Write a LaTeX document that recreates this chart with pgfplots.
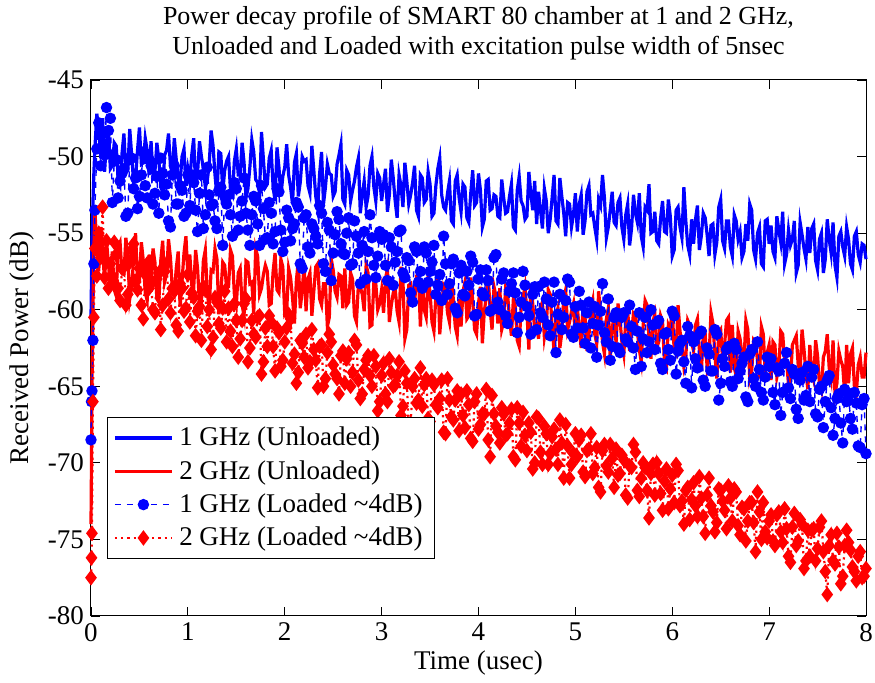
\documentclass[border=0pt]{standalone}
\usepackage{fontspec}
\setmainfont{Liberation Serif}
\usepackage{pgfplots}
\usepackage{pgfplotstable}
\pgfplotsset{compat=1.18}

\pgfplotstableread{
x bu ru bl rl
0     -60.5 -74.0 -68.5 -77.5
0.005 -58.0 -70.0 -66.0 -76.2
0.01  -55.5 -65.0 -65.3 -74.6
0.02  -53.0 -60.0 -62.0 -66.0
0.03  -51.0 -56.0 -57.0 -60.5
0.04  -49.5 -53.5 -53.5 -56.0
0.06  -47.2 -55.8 -49.5 -57.8
0.08  -48.2 -57.5 -47.8 -55.0
0.10  -50.1 -54.6 -50.6 -56.6
0.12  -47.5 -56.0 -48.5 -53.3
0.14  -51.0 -58.2 -49.9 -57.9
0.16  -49.0 -55.5 -46.8 -55.5
0.18  -48.1 -57.0 -48.3 -58.6
0.20  -50.8 -58.5 -47.5 -57.0
0.22 -50.6 -56.2 -53.0 -57.8
0.24 -49.1 -58.7 -50.3 -55.6
0.26 -49.3 -59.1 -50.2 -56.4
0.28 -51.4 -55.9 -52.7 -58.6
0.30 -51.8 -55.6 -51.6 -59.4
0.32 -49.8 -57.6 -51.1 -57.3
0.34 -48.5 -57.7 -50.8 -57.2
0.36 -51.0 -55.3 -53.9 -59.7
0.38 -50.9 -56.6 -53.7 -59.0
0.40 -48.2 -59.3 -50.2 -56.9
0.42 -49.9 -58.5 -50.1 -56.1
0.44 -51.7 -56.7 -52.1 -55.7
0.46 -51.5 -55.0 -51.4 -58.2
0.48 -49.6 -58.1 -53.4 -58.7
0.50 -48.1 -58.0 -52.6 -57.3
0.52 -50.5 -55.6 -51.2 -59.7
0.54 -50.4 -56.8 -49.7 -60.6
0.56 -48.8 -58.9 -51.9 -57.7
0.58 -49.6 -59.4 -52.7 -57.0
0.60 -51.2 -56.4 -50.2 -58.6
0.62 -49.0 -58.5 -50.6 -58.3
0.64 -51.3 -56.0 -53.1 -60.0
0.66 -51.0 -56.9 -52.4 -60.2
0.68 -49.1 -59.3 -51.3 -58.0
0.70 -50.2 -59.5 -53.7 -57.6
0.72 -52.0 -56.8 -50.1 -61.3
0.74 -52.3 -55.5 -51.1 -59.7
0.76 -49.9 -58.2 -52.5 -57.5
0.78 -49.6 -57.7 -51.8 -57.0
0.80 -48.5 -55.4 -54.2 -59.3
0.82 -50.6 -56.6 -54.6 -60.2
0.84 -51.1 -58.7 -51.2 -58.6
0.86 -48.8 -59.0 -50.6 -58.8
0.88 -50.2 -57.3 -53.1 -61.0
0.90 -51.5 -56.2 -53.1 -61.4
0.92 -51.7 -59.8 -51.9 -58.3
0.94 -50.0 -58.1 -52.2 -58.6
0.96 -49.5 -56.3 -53.9 -60.1
0.98 -51.9 -55.2 -53.7 -59.9
1.00 -50.8 -57.8 -51.2 -57.7
1.02 -51.6 -56.4 -53.2 -60.8
1.04 -49.9 -58.4 -51.2 -58.9
1.06 -48.8 -58.6 -51.7 -59.2
1.08 -52.0 -56.1 -53.5 -61.7
1.10 -51.1 -57.3 -54.9 -60.1
1.12 -49.0 -59.7 -52.4 -59.8
1.14 -50.0 -59.5 -51.2 -62.0
1.16 -50.8 -56.8 -54.7 -58.5
1.18 -52.0 -56.1 -53.8 -58.7
1.20 -51.6 -58.9 -50.7 -61.1
1.22 -50.5 -59.9 -52.5 -60.0
1.24 -48.3 -57.4 -53.2 -62.6
1.26 -49.3 -57.5 -53.1 -61.8
1.28 -51.2 -56.0 -54.2 -59.2
1.30 -52.6 -56.7 -54.7 -59.5
1.32 -49.7 -60.3 -52.2 -60.9
1.34 -49.8 -59.0 -52.0 -61.2
1.36 -52.3 -56.9 -55.8 -59.9
1.38 -50.9 -57.1 -52.6 -58.8
1.40 -50.3 -58.6 -53.1 -62.1
1.42 -50.0 -58.5 -52.5 -59.9
1.44 -52.2 -56.1 -53.8 -61.4
1.46 -52.5 -56.5 -55.2 -62.4
1.48 -50.3 -59.0 -51.7 -59.6
1.50 -49.5 -59.7 -52.1 -60.7
1.52 -51.2 -57.6 -54.8 -63.1
1.54 -51.2 -57.3 -53.9 -61.9
1.56 -49.1 -59.7 -52.9 -60.7
1.58 -50.4 -60.4 -51.4 -59.6
1.60 -52.7 -56.8 -53.7 -59.3
1.62 -52.1 -56.9 -54.8 -63.4
1.64 -50.7 -58.3 -55.8 -62.5
1.66 -48.9 -58.2 -53.8 -60.7
1.68 -49.7 -60.3 -52.6 -61.6
1.70 -51.5 -56.0 -52.9 -61.8
1.72 -51.7 -56.5 -54.4 -60.5
1.74 -52.4 -59.0 -55.8 -60.4
1.76 -48.4 -58.6 -51.9 -64.2
1.78 -50.2 -57.7 -53.4 -63.4
1.80 -52.0 -57.1 -55.4 -61.2
1.82 -51.8 -57.5 -55.3 -62.4
1.84 -50.1 -59.7 -53.0 -60.4
1.86 -49.6 -59.6 -53.7 -60.8
1.88 -52.0 -57.5 -55.7 -62.4
1.90 -52.9 -56.3 -54.9 -64.0
1.92 -49.4 -58.7 -52.1 -61.2
1.94 -50.7 -58.9 -52.3 -61.5
1.96 -52.6 -56.7 -54.8 -63.7
1.98 -51.3 -57.2 -56.2 -63.3
2.00 -50.7 -60.3 -55.6 -62.1
2.02 -49.2 -60.1 -53.5 -61.2
2.04 -51.2 -57.3 -54.0 -60.3
2.06 -52.0 -57.9 -55.5 -60.6
2.08 -53.1 -59.2 -54.7 -63.5
2.10 -50.4 -60.9 -54.4 -62.9
2.12 -49.8 -58.1 -53.0 -64.8
2.14 -52.6 -56.8 -53.3 -64.1
2.16 -51.7 -59.9 -57.0 -62.0
2.18 -50.0 -58.8 -57.3 -62.2
2.20 -50.3 -57.0 -54.0 -63.1
2.22 -50.2 -60.1 -53.8 -61.6
2.24 -51.9 -58.0 -55.9 -63.8
2.26 -52.4 -57.6 -56.3 -63.4
2.28 -49.3 -60.4 -54.4 -61.3
2.30 -50.9 -58.8 -54.7 -62.6
2.32 -52.6 -57.2 -55.2 -63.3
2.34 -53.4 -57.0 -55.7 -65.1
2.36 -51.1 -59.3 -53.2 -62.4
2.38 -49.7 -59.7 -53.7 -62.3
2.40 -53.1 -58.3 -57.0 -65.0
2.42 -52.0 -58.3 -57.5 -64.5
2.44 -50.5 -61.1 -54.3 -62.8
2.46 -51.1 -60.5 -54.8 -61.6
2.48 -51.2 -56.7 -58.1 -62.1
2.50 -52.6 -57.4 -56.3 -63.6
2.52 -52.3 -58.8 -55.1 -64.2
2.54 -50.5 -59.2 -53.6 -64.5
2.56 -49.9 -57.7 -54.1 -65.5
2.58 -49.2 -57.8 -55.7 -63.0
2.60 -52.8 -59.9 -56.3 -62.7
2.62 -53.1 -57.3 -56.4 -64.8
2.64 -50.9 -59.7 -55.0 -63.2
2.66 -51.2 -59.5 -54.0 -62.8
2.68 -52.9 -57.6 -57.1 -65.0
2.70 -52.2 -58.0 -57.0 -64.1
2.72 -51.6 -60.4 -54.2 -62.0
2.74 -50.7 -60.8 -55.2 -62.3
2.76 -50.1 -58.4 -56.3 -64.6
2.78 -53.7 -58.5 -58.3 -65.8
2.80 -52.5 -59.0 -55.8 -65.5
2.82 -51.6 -60.1 -54.9 -63.9
2.84 -53.3 -57.1 -58.0 -63.3
2.86 -52.6 -57.6 -56.2 -63.0
2.88 -50.6 -61.1 -53.8 -64.3
2.90 -50.0 -61.0 -55.3 -65.0
2.92 -52.0 -58.2 -57.1 -63.0
2.94 -52.9 -58.3 -57.9 -63.7
2.96 -51.1 -60.0 -56.5 -66.6
2.98 -51.4 -59.6 -54.9 -66.0
3.00 -52.9 -58.7 -55.4 -64.3
3.02 -51.8 -60.2 -55.1 -63.5
3.04 -50.8 -58.0 -57.1 -65.5
3.06 -53.6 -57.3 -58.1 -66.0
3.08 -52.5 -60.8 -55.3 -63.2
3.10 -50.2 -59.7 -55.9 -64.1
3.12 -51.4 -58.9 -58.4 -65.0
3.14 -52.9 -58.6 -56.9 -64.9
3.16 -54.0 -60.1 -56.2 -64.3
3.18 -51.2 -60.8 -54.9 -63.4
3.20 -51.9 -57.2 -54.8 -66.9
3.22 -53.3 -58.1 -57.6 -66.3
3.24 -50.4 -61.9 -57.9 -64.0
3.26 -51.6 -61.3 -56.6 -64.8
3.28 -53.1 -58.4 -56.8 -67.7
3.30 -52.5 -58.3 -58.9 -67.4
3.32 -51.7 -59.5 -59.5 -65.0
3.34 -50.6 -59.6 -55.9 -64.5
3.36 -53.5 -57.8 -56.2 -66.1
3.38 -53.9 -57.7 -58.2 -65.9
3.40 -51.2 -61.1 -57.5 -63.8
3.42 -51.4 -58.1 -58.6 -66.3
3.44 -53.0 -60.0 -55.9 -64.9
3.46 -52.8 -60.5 -56.3 -64.5
3.48 -51.0 -57.8 -58.2 -67.1
3.50 -51.8 -58.9 -57.5 -67.3
3.52 -53.9 -60.8 -56.9 -64.6
3.54 -53.7 -61.4 -55.8 -64.9
3.56 -51.9 -59.1 -59.0 -66.2
3.58 -50.8 -57.7 -58.4 -66.4
3.60 -50.1 -61.6 -57.7 -65.8
3.62 -52.5 -59.9 -59.4 -64.6
3.64 -53.3 -58.4 -55.2 -68.0
3.66 -53.5 -58.6 -57.0 -68.1
3.68 -52.4 -60.2 -59.0 -64.5
3.70 -51.6 -60.8 -58.3 -65.9
3.72 -54.2 -58.0 -57.0 -67.0
3.74 -54.4 -59.3 -56.7 -67.2
3.76 -51.6 -61.1 -59.9 -65.9
3.78 -51.2 -61.7 -60.2 -65.3
3.80 -52.7 -59.3 -57.6 -67.9
3.82 -53.6 -61.1 -57.1 -65.5
3.84 -51.8 -58.8 -59.0 -66.9
3.86 -52.0 -58.2 -59.1 -67.7
3.88 -54.0 -60.6 -57.5 -65.3
3.90 -54.3 -60.4 -58.4 -66.2
3.92 -52.4 -57.9 -56.5 -68.4
3.94 -50.9 -59.4 -56.9 -68.6
3.96 -53.2 -61.3 -60.4 -66.0
3.98 -53.0 -61.6 -60.3 -65.5
4.00 -51.1 -59.6 -58.0 -67.8
4.02 -52.2 -58.5 -57.4 -67.5
4.04 -54.6 -62.2 -58.9 -66.8
4.06 -54.1 -60.1 -59.1 -66.8
4.08 -51.6 -59.2 -57.4 -65.2
4.10 -51.5 -57.8 -58.1 -68.5
4.12 -53.5 -60.0 -60.1 -69.6
4.14 -53.4 -61.3 -60.0 -65.6
4.16 -52.5 -58.5 -56.6 -66.8
4.18 -52.6 -59.1 -56.4 -67.6
4.20 -53.9 -60.9 -59.5 -68.0
4.22 -54.0 -58.6 -60.0 -68.7
4.24 -51.5 -61.3 -58.0 -66.4
4.26 -52.7 -60.8 -57.6 -66.8
4.28 -53.7 -58.6 -60.4 -68.2
4.30 -53.6 -59.0 -60.9 -68.1
4.32 -52.6 -60.5 -58.8 -67.4
4.34 -51.8 -61.7 -58.3 -66.5
4.36 -54.6 -59.3 -57.6 -69.6
4.38 -54.8 -59.8 -58.9 -69.8
4.40 -52.2 -62.0 -61.5 -66.4
4.42 -51.3 -62.4 -60.5 -67.4
4.44 -52.9 -59.8 -59.5 -68.9
4.46 -53.2 -59.2 -57.5 -66.7
4.48 -54.1 -58.5 -58.4 -68.2
4.50 -53.9 -60.2 -59.8 -69.2
4.52 -51.0 -62.6 -60.4 -67.4
4.54 -52.4 -58.4 -61.6 -68.0
4.56 -53.5 -59.6 -59.0 -70.4
4.58 -51.6 -61.3 -58.5 -70.0
4.60 -54.4 -61.0 -61.3 -67.0
4.62 -52.3 -61.9 -58.5 -67.1
4.64 -53.5 -59.8 -60.2 -69.3
4.66 -54.7 -59.5 -60.5 -70.1
4.68 -52.1 -61.8 -58.2 -67.6
4.70 -52.9 -61.0 -59.3 -68.1
4.72 -55.0 -58.7 -61.0 -70.1
4.74 -54.1 -59.0 -61.7 -69.4
4.76 -52.7 -61.1 -59.5 -68.3
4.78 -51.2 -62.7 -58.2 -67.8
4.80 -54.2 -60.4 -62.8 -69.1
4.82 -54.4 -59.9 -60.3 -70.1
4.84 -51.4 -62.5 -59.0 -67.2
4.86 -52.6 -61.5 -61.3 -68.7
4.88 -53.7 -59.3 -60.5 -71.0
4.90 -55.2 -58.7 -59.4 -67.5
4.92 -53.0 -61.3 -58.0 -68.9
4.94 -53.1 -60.8 -58.2 -71.0
4.96 -54.6 -60.1 -61.6 -70.1
4.98 -53.8 -59.6 -61.8 -69.4
5.00 -52.4 -62.1 -59.8 -68.1
5.02 -54.9 -59.8 -61.2 -69.6
5.04 -53.1 -61.3 -58.8 -68.5
5.06 -52.5 -62.5 -59.7 -68.2
5.08 -55.1 -59.5 -61.2 -70.6
5.10 -54.2 -60.5 -62.2 -70.9
5.12 -52.3 -62.7 -60.2 -69.2
5.14 -51.9 -61.7 -59.5 -69.1
5.16 -53.8 -60.0 -62.5 -68.1
5.18 -53.7 -59.4 -60.9 -70.7
5.20 -54.6 -61.6 -59.8 -70.3
5.22 -55.4 -62.2 -63.1 -69.0
5.24 -52.8 -58.8 -61.0 -71.6
5.26 -53.2 -60.2 -60.1 -71.9
5.28 -51.2 -62.1 -58.3 -69.2
5.30 -52.7 -62.9 -61.5 -68.8
5.32 -55.3 -60.6 -62.1 -70.2
5.34 -54.6 -59.9 -59.3 -70.6
5.36 -53.5 -63.2 -63.3 -68.8
5.38 -52.3 -61.3 -62.4 -69.7
5.40 -54.3 -60.2 -60.5 -71.6
5.42 -54.5 -62.2 -60.2 -69.1
5.44 -53.0 -59.6 -62.5 -70.8
5.46 -52.7 -60.6 -62.8 -70.7
5.48 -54.6 -62.1 -60.5 -69.5
5.50 -55.4 -62.9 -60.2 -69.8
5.52 -53.8 -60.7 -61.9 -72.1
5.54 -53.1 -59.8 -62.1 -72.3
5.56 -55.8 -62.7 -59.7 -70.2
5.58 -54.7 -61.6 -61.1 -70.3
5.60 -52.5 -60.2 -62.5 -68.8
5.62 -53.7 -60.3 -63.9 -69.3
5.64 -54.3 -61.4 -61.4 -71.8
5.66 -52.4 -62.6 -60.2 -72.2
5.68 -55.2 -63.4 -63.7 -71.0
5.70 -55.9 -61.0 -61.9 -70.0
5.72 -53.3 -59.4 -60.5 -70.3
5.74 -53.5 -59.7 -62.8 -71.8
5.76 -51.8 -61.8 -62.1 -73.6
5.78 -55.0 -63.2 -60.0 -70.7
5.80 -54.9 -60.8 -61.0 -70.1
5.82 -53.6 -60.3 -62.6 -72.1
5.84 -55.5 -62.5 -60.9 -70.0
5.86 -55.7 -62.1 -60.7 -70.7
5.88 -54.0 -60.4 -63.5 -72.0
5.90 -52.9 -60.8 -63.9 -73.1
5.92 -54.9 -63.5 -61.6 -71.2
5.94 -55.0 -63.8 -61.5 -70.4
5.96 -52.8 -61.0 -62.6 -73.0
5.98 -53.9 -61.3 -63.3 -71.7
6.00 -56.5 -59.9 -60.1 -70.8
6.02 -56.1 -62.7 -60.4 -72.6
6.04 -53.5 -62.9 -64.2 -70.1
6.06 -53.3 -59.7 -62.7 -70.5
6.08 -54.6 -61.4 -62.2 -72.8
6.10 -55.3 -62.3 -62.0 -72.5
6.12 -52.0 -63.7 -63.4 -74.0
6.14 -54.2 -63.1 -64.8 -71.8
6.16 -55.8 -60.7 -61.1 -71.6
6.18 -56.4 -61.0 -61.7 -73.7
6.20 -54.1 -62.1 -65.1 -72.4
6.22 -55.7 -62.7 -62.1 -71.3
6.24 -54.1 -61.0 -63.2 -72.8
6.26 -53.2 -60.6 -63.8 -73.5
6.28 -56.1 -62.6 -61.6 -70.9
6.30 -55.2 -64.0 -61.4 -72.3
6.32 -53.7 -61.8 -64.6 -73.5
6.34 -54.0 -61.6 -65.0 -74.6
6.36 -55.1 -63.8 -62.5 -72.1
6.38 -56.5 -63.1 -62.9 -71.0
6.40 -54.5 -60.2 -64.0 -72.8
6.42 -54.4 -60.9 -64.0 -73.2
6.44 -56.4 -62.9 -61.3 -74.5
6.46 -55.6 -64.5 -61.6 -73.9
6.48 -53.3 -61.5 -65.9 -71.7
6.50 -52.8 -61.3 -64.8 -71.8
6.52 -55.5 -63.3 -63.2 -72.5
6.54 -56.0 -62.3 -63.7 -73.1
6.56 -54.2 -60.7 -62.6 -74.3
6.58 -54.2 -60.5 -62.4 -71.5
6.60 -55.9 -64.1 -64.7 -72.3
6.62 -56.5 -61.0 -65.0 -73.8
6.64 -53.8 -63.8 -62.2 -71.7
6.66 -54.2 -64.3 -62.6 -71.9
6.68 -55.4 -61.4 -64.5 -74.1
6.70 -54.9 -61.9 -64.0 -74.7
6.72 -56.6 -62.9 -63.5 -72.9
6.74 -56.2 -63.4 -63.1 -73.0
6.76 -54.4 -60.7 -65.7 -75.1
6.78 -55.5 -61.3 -66.0 -73.8
6.80 -53.1 -64.5 -62.9 -72.6
6.82 -53.5 -64.0 -62.6 -72.6
6.84 -56.1 -62.0 -64.5 -73.9
6.86 -56.7 -62.2 -65.0 -75.8
6.88 -55.0 -63.3 -62.1 -71.9
6.90 -54.6 -64.5 -63.9 -73.2
6.92 -57.0 -61.1 -65.4 -75.0
6.94 -57.2 -61.6 -65.9 -72.6
6.96 -54.2 -64.1 -64.4 -74.5
6.98 -54.1 -62.8 -63.1 -74.9
7.00 -55.7 -62.3 -63.7 -73.8
7.02 -54.5 -64.6 -63.2 -73.4
7.04 -56.2 -62.1 -65.4 -75.1
7.06 -56.6 -62.3 -66.2 -75.4
7.08 -53.9 -64.4 -63.8 -73.4
7.10 -54.8 -63.8 -64.0 -73.2
7.12 -55.6 -61.4 -66.9 -74.5
7.14 -53.6 -61.6 -65.4 -75.2
7.16 -57.0 -63.3 -63.5 -73.0
7.18 -56.4 -63.3 -62.8 -74.3
7.20 -54.8 -64.9 -65.1 -76.1
7.22 -55.8 -64.7 -65.8 -76.5
7.24 -55.4 -62.3 -63.9 -74.2
7.26 -54.2 -62.0 -64.2 -73.3
7.28 -57.6 -61.7 -66.5 -75.4
7.30 -57.1 -63.6 -67.1 -75.1
7.32 -54.3 -64.0 -64.6 -73.7
7.34 -55.1 -61.3 -64.1 -74.0
7.36 -56.0 -62.6 -65.9 -76.9
7.38 -56.7 -64.1 -65.6 -76.4
7.40 -54.6 -65.2 -63.7 -74.4
7.42 -56.3 -62.3 -66.0 -76.1
7.44 -54.7 -64.1 -64.4 -74.4
7.46 -54.4 -64.6 -63.9 -74.3
7.48 -56.8 -62.0 -66.8 -76.4
7.50 -57.4 -63.0 -67.0 -75.6
7.52 -55.4 -64.9 -65.2 -74.2
7.54 -55.0 -65.3 -65.0 -73.8
7.56 -57.6 -63.1 -67.7 -75.8
7.58 -56.7 -62.7 -66.0 -77.1
7.60 -54.1 -61.6 -64.6 -78.6
7.62 -55.4 -63.8 -64.3 -75.4
7.64 -56.3 -64.5 -66.4 -74.7
7.66 -54.3 -62.0 -68.2 -76.4
7.68 -57.1 -65.5 -67.1 -76.6
7.70 -57.9 -64.8 -65.8 -74.6
7.72 -55.2 -62.7 -65.5 -75.5
7.74 -54.9 -63.3 -67.4 -77.9
7.76 -55.9 -63.7 -68.7 -77.4
7.78 -56.5 -65.5 -65.2 -75.4
7.80 -54.6 -62.3 -66.0 -74.4
7.82 -55.4 -64.8 -65.6 -75.2
7.84 -57.0 -62.9 -67.1 -75.7
7.86 -57.4 -62.5 -67.8 -76.8
7.88 -55.2 -65.0 -65.4 -77.1
7.90 -54.9 -65.5 -66.1 -77.7
7.92 -56.4 -63.6 -68.9 -76.1
7.94 -56.9 -63.1 -69.0 -75.8
7.96 -55.7 -64.4 -66.2 -77.5
7.98 -55.8 -64.4 -65.8 -77.4
8.00 -56.7 -62.8 -69.4 -76.9
}\data

\begin{document}
\begin{tikzpicture}
\path[use as bounding box] (-45.5pt,-33.5pt) rectangle (392pt,308pt);
\begin{axis}[
  at={(0,0)}, anchor=south west,
  scale only axis, width=387.5pt, height=268pt,
  xmin=0, xmax=8, ymin=-80, ymax=-45,
  xtick={0,1,...,8}, ytick={-80,-75,...,-45},
  tick align=inside, major tick length=4.5pt,
  tick style={black, line width=0.4pt},
  axis line style={black, line width=0.5pt},
  every tick label/.append style={font=\fontsize{13.5}{15}\selectfont},
  /pgf/number format/assume math mode=true,
  clip=false,
  xlabel={Time (usec)}, ylabel={Received Power (dB)},
  label style={font=\fontsize{13.5}{15}\selectfont},
  xlabel style={at={(axis description cs:0.5,-0.0877)}, anchor=center},
  ylabel style={at={(axis description cs:-0.089,0.5)}, anchor=center},
  title={Power decay profile of SMART 80 chamber at 1 and 2 GHz,\\Unloaded and Loaded with excitation pulse width of 5nsec},
  title style={at={(axis description cs:0.5,1.0644)}, anchor=center, align=center, font=\fontsize{13}{15}\selectfont},
  legend style={at={(axis description cs:0.0206,0.1063)}, anchor=south west, draw=black, fill=white,
    font=\fontsize{13.5}{15}\selectfont, nodes={inner sep=2.9pt}, row sep=0pt},
  legend cell align=left,
  legend image code/.code={\draw[mark repeat=2,mark phase=2,#1] plot coordinates {(0cm,0cm) (0.5cm,0cm) (1cm,0cm)};},
]
\addplot[blue, line width=1.6pt, no markers] table[x=x,y=bu]{\data};
\addplot[red, line width=1.6pt, no markers] table[x=x,y=ru]{\data};
\addplot[blue, dashed, line width=0.7pt, mark=*, mark size=2.5pt, mark options={solid, fill=blue}] table[x=x,y=bl]{\data};
\addplot[red, dotted, line width=1.1pt, mark=diamond*, mark size=3pt, mark options={solid, fill=red}] table[x=x,y=rl]{\data};
\legend{1 GHz (Unloaded), 2 GHz (Unloaded), 1 GHz (Loaded \textasciitilde{}4dB), 2 GHz (Loaded \textasciitilde{}4dB)}
\end{axis}
\end{tikzpicture}
\end{document}
